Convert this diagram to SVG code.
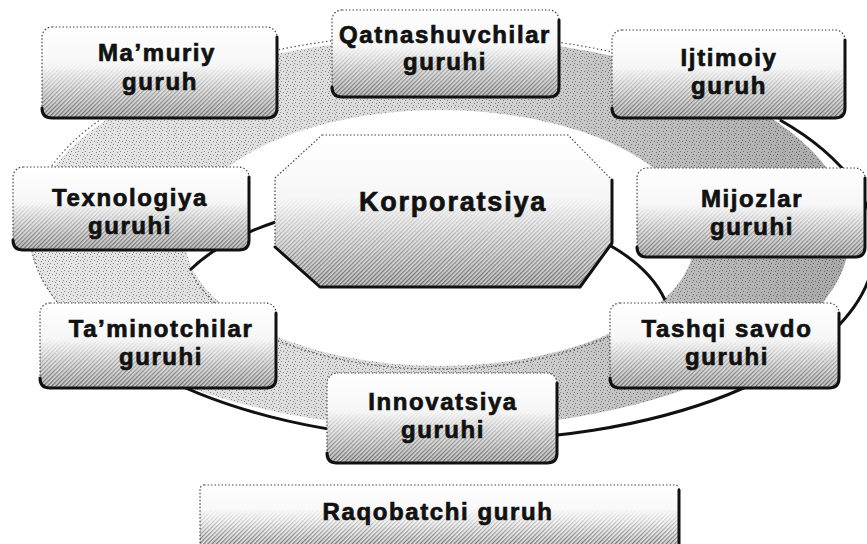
<svg xmlns="http://www.w3.org/2000/svg" width="867" height="544" viewBox="0 0 867 544">
<defs>
<linearGradient id="boxGrad" x1="0" y1="0" x2="0" y2="1">
<stop offset="0" stop-color="#ffffff"/>
<stop offset="0.45" stop-color="#f6f6f6"/>
<stop offset="1" stop-color="#c8c8c8"/>
</linearGradient>
<linearGradient id="fadeGrad" x1="0" y1="0" x2="0" y2="1">
<stop offset="0" stop-color="#000"/>
<stop offset="0.4" stop-color="#000"/>
<stop offset="1" stop-color="#fff"/>
</linearGradient>
<mask id="fade" maskContentUnits="objectBoundingBox">
<rect width="1" height="1" fill="url(#fadeGrad)"/>
</mask>
<linearGradient id="ringGrad" x1="0" y1="0" x2="1" y2="0">
<stop offset="0" stop-color="#e6e6e6"/>
<stop offset="0.5" stop-color="#d8d8d8"/>
<stop offset="1" stop-color="#a8a8a8"/>
</linearGradient>
<pattern id="hatch" width="3" height="3" patternUnits="userSpaceOnUse" patternTransform="rotate(45)">
<rect width="1.2" height="3" fill="#000"/>
</pattern>
<pattern id="stip" width="7" height="7" patternUnits="userSpaceOnUse">
<rect x="0" y="0" width="1" height="1" fill="#000"/>
<rect x="3" y="1" width="1" height="1" fill="#000"/>
<rect x="1" y="4" width="1" height="1" fill="#000"/>
<rect x="5" y="5" width="1" height="1" fill="#000"/>
<rect x="6" y="2" width="1" height="1" fill="#000"/>
</pattern>
</defs>
<style>
.box{fill:url(#boxGrad);stroke:#444;stroke-width:1.2;stroke-dasharray:1.5 2}
.shade{fill:url(#hatch);opacity:0.5}
.edge{fill:none;stroke:#111;stroke-width:3;stroke-linejoin:round;stroke-linecap:round}
.lbl{font-family:"Liberation Sans",Arial,sans-serif;font-weight:bold;font-size:24px;letter-spacing:1.6px;fill:#111;stroke:#111;stroke-width:0.7;text-anchor:middle}
.big{font-size:27px;letter-spacing:1.8px}
.dot{fill:none;stroke:#555;stroke-width:1.2;stroke-dasharray:1.5 2.5}
.dark{fill:none;stroke:#111;stroke-width:3}
</style>
<rect width="867" height="544" fill="#fff"/>

<g id="ring">
<path d="M30,233 A410,195 0 1 0 850,233 A410,195 0 1 0 30,233 Z M185,238 A255,128 0 1 1 695,238 A255,128 0 1 1 185,238 Z" fill="url(#ringGrad)" fill-rule="evenodd"/>
<path d="M30,233 A410,195 0 1 0 850,233 A410,195 0 1 0 30,233 Z M185,238 A255,128 0 1 1 695,238 A255,128 0 1 1 185,238 Z" fill="url(#stip)" fill-rule="evenodd" opacity="0.4"/>
<path class="dot" d="M30,233 A410,195 0 0 1 780,120"/>
<path class="dark" d="M780,120 A410,195 0 0 1 150,370"/>
<path class="dot" d="M150,370 A410,195 0 0 1 30,233"/>
<path class="dark" d="M190,270 A255,128 0 0 1 665,300"/>
<path class="dot" d="M665,300 A255,128 0 0 1 190,270"/>
</g>

<g id="korporatsiya">
<polygon points="322,135 568,135 612,180 612,243 580,287 320,287 275,247 275,178" fill="url(#boxGrad)" stroke="#444" stroke-width="1.2" stroke-dasharray="1.5 2"/>
<polygon points="322,135 568,135 612,180 612,243 580,287 320,287 275,247 275,178" class="shade" mask="url(#fade)"/>
<path class="edge" d="M612,180 V243 L580,287 H320 L275,247"/>
<text class="lbl big" x="453" y="211">Korporatsiya</text>
</g>

<g id="mamuriy">
<rect class="box" x="42" y="27" width="235" height="91" rx="10"/>
<rect class="shade" x="42" y="27" width="235" height="91" rx="10" mask="url(#fade)"/>
<path class="edge" d="M277,37 V108 Q277,118 267,118 H52 Q42,118 42,108"/>
<text class="lbl" x="157" y="61">Ma’muriy</text>
<text class="lbl" x="160" y="90">guruh</text>
</g>

<g id="qatnashuvchilar">
<rect class="box" x="332" y="10" width="227" height="87" rx="10"/>
<rect class="shade" x="332" y="10" width="227" height="87" rx="10" mask="url(#fade)"/>
<path class="edge" d="M559,20 V87 Q559,97 549,97 H342 Q332,97 332,87"/>
<text class="lbl" x="445" y="43">Qatnashuvchilar</text>
<text class="lbl" x="445" y="70">guruhi</text>
</g>

<g id="ijtimoiy">
<rect class="box" x="612" y="30" width="233" height="88" rx="10"/>
<rect class="shade" x="612" y="30" width="233" height="88" rx="10" mask="url(#fade)"/>
<path class="edge" d="M845,40 V108 Q845,118 835,118 H622 Q612,118 612,108"/>
<text class="lbl" x="729" y="66">Ijtimoiy</text>
<text class="lbl" x="729" y="94">guruh</text>
</g>

<g id="texnologiya">
<rect class="box" x="13" y="167" width="236" height="83" rx="10"/>
<rect class="shade" x="13" y="167" width="236" height="83" rx="10" mask="url(#fade)"/>
<path class="edge" d="M249,177 V240 Q249,250 239,250 H23 Q13,250 13,240"/>
<text class="lbl" x="130" y="206">Texnologiya</text>
<text class="lbl" x="130" y="234">guruhi</text>
</g>

<g id="mijozlar">
<rect class="box" x="637" y="168" width="228" height="89" rx="10"/>
<rect class="shade" x="637" y="168" width="228" height="89" rx="10" mask="url(#fade)"/>
<path class="edge" d="M865,178 V247 Q865,257 855,257 H647 Q637,257 637,247"/>
<text class="lbl" x="752" y="207">Mijozlar</text>
<text class="lbl" x="752" y="235">guruhi</text>
</g>

<g id="taminotchilar">
<rect class="box" x="40" y="303" width="236" height="85" rx="10"/>
<rect class="shade" x="40" y="303" width="236" height="85" rx="10" mask="url(#fade)"/>
<path class="edge" d="M276,313 V378 Q276,388 266,388 H50 Q40,388 40,378"/>
<text class="lbl" x="161" y="337">Ta’minotchilar</text>
<text class="lbl" x="161" y="365">guruhi</text>
</g>

<g id="tashqi-savdo">
<rect class="box" x="610" y="303" width="229" height="85" rx="10"/>
<rect class="shade" x="610" y="303" width="229" height="85" rx="10" mask="url(#fade)"/>
<path class="edge" d="M839,313 V378 Q839,388 829,388 H620 Q610,388 610,378"/>
<text class="lbl" x="727" y="337">Tashqi savdo</text>
<text class="lbl" x="727" y="365">guruhi</text>
</g>

<g id="innovatsiya">
<rect class="box" x="327" y="373" width="230" height="90" rx="10"/>
<rect class="shade" x="327" y="373" width="230" height="90" rx="10" mask="url(#fade)"/>
<path class="edge" d="M557,383 V453 Q557,463 547,463 H337 Q327,463 327,453"/>
<text class="lbl" x="443" y="410">Innovatsiya</text>
<text class="lbl" x="443" y="438">guruhi</text>
</g>

<g id="raqobatchi">
<rect class="box" x="200" y="485" width="479" height="80" rx="4"/>
<rect class="shade" x="200" y="485" width="479" height="59" mask="url(#fade)"/>
<path class="edge" d="M679,490 V560"/>
<text class="lbl" x="438" y="520">Raqobatchi guruh</text>
</g>
</svg>
